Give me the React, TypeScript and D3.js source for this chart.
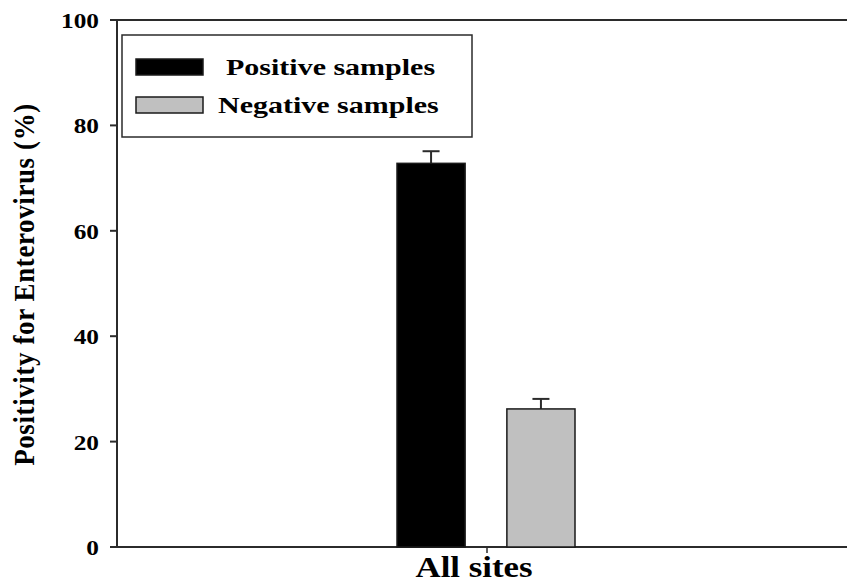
import React from "react";
import * as d3 from "d3";

// data
const categories = ["All sites"];
const groups = ["Positive samples", "Negative samples"];
const means = [72.8, 26.2];
const errors = [2.3, 1.9];
const fills = ["#000000", "#c0c0c0"];
const yTicks = [0, 20, 40, 60, 80, 100];

const W = 847;
const H = 585;
const font = "'Liberation Serif', 'Times New Roman', serif";

const App = () => {
  const left = 117;
  const right = 857; // right border falls off the picture
  const top = 20;
  const bottom = 547;

  const y = d3.scaleLinear().domain([0, 100]).range([bottom, top]);
  const x0 = d3.scaleBand().domain(categories).range([left, right]);
  const center = (x0(categories[0]) ?? 0) + x0.bandwidth() / 2;
  const x1 = d3
    .scaleBand()
    .domain(groups)
    .range([center - 90, center + 88])
    .paddingInner(0.38);

  const axisColor = "#2b2b2b";

  return (
    <svg
      width={W}
      height={H}
      style={{ position: "absolute", left: 0, top: 0, background: "#fff" }}
    >
      {/* frame: left, top and bottom lines */}
      <line x1={left} x2={left} y1={top - 1} y2={bottom + 1} stroke={axisColor} strokeWidth={2} />
      <line x1={left} x2={right} y1={top} y2={top} stroke={axisColor} strokeWidth={2} />
      <line x1={left} x2={right} y1={bottom} y2={bottom} stroke={axisColor} strokeWidth={2} />

      {/* y ticks */}
      {yTicks.map((t) => (
        <g key={t}>
          <line x1={left - 7} x2={left} y1={y(t)} y2={y(t)} stroke={axisColor} strokeWidth={2} />
          <text
            transform={`translate(${left - 18},${y(t) + 8}) scale(1.15,1)`}
            textAnchor="end"
            fontFamily={font}
            fontWeight="bold"
            fontSize={22}
            fill="#000"
          >
            {t}
          </text>
        </g>
      ))}

      {/* x category tick + label */}
      <line x1={center} x2={center} y1={bottom} y2={bottom + 6} stroke={axisColor} strokeWidth={1.5} />
      <text
        transform={`translate(${center - 13},${H - 8}) scale(1.2,1)`}
        textAnchor="middle"
        fontFamily={font}
        fontWeight="bold"
        fontSize={29}
        fill="#000"
      >
        {categories[0]}
      </text>

      {/* y axis title */}
      <text
        transform={`translate(34,${(top + bottom) / 2 + 1}) scale(1.1,1) rotate(-90)`}
        textAnchor="middle"
        fontFamily={font}
        fontWeight="bold"
        fontSize={27}
        letterSpacing={0.6}
        fill="#000"
      >
        Positivity for Enterovirus (%)
      </text>

      {/* bars with error caps */}
      {groups.map((g, i) => {
        const bx = x1(g) ?? 0;
        const bw = x1.bandwidth();
        const cx = bx + bw / 2;
        const yTop = y(means[i]);
        const yErr = y(means[i] + errors[i]);
        return (
          <g key={g}>
            <line x1={cx} x2={cx} y1={yTop} y2={yErr} stroke={axisColor} strokeWidth={2} />
            <line x1={cx - 8.5} x2={cx + 8.5} y1={yErr} y2={yErr} stroke={axisColor} strokeWidth={2} />
            <rect
              x={bx}
              y={yTop}
              width={bw}
              height={bottom - yTop}
              fill={fills[i]}
              stroke="#1a1a1a"
              strokeWidth={1.5}
            />
          </g>
        );
      })}

      {/* legend */}
      <g>
        <rect x={122} y={35} width={350} height={102} fill="#fff" stroke={axisColor} strokeWidth={1.5} />
        {groups.map((g, i) => {
          const ly = 59 + i * 38;
          return (
            <g key={g}>
              <rect x={136} y={ly} width={67} height={16} fill={fills[i]} stroke="#1a1a1a" strokeWidth={1.5} />
              <text
                transform={`translate(${i === 0 ? 226 : 218},${ly + 16}) scale(1.25,1)`}
                fontFamily={font}
                fontWeight="bold"
                fontSize={24}
                fill="#000"
              >
                {g}
              </text>
            </g>
          );
        })}
      </g>
    </svg>
  );
};

export default App;
